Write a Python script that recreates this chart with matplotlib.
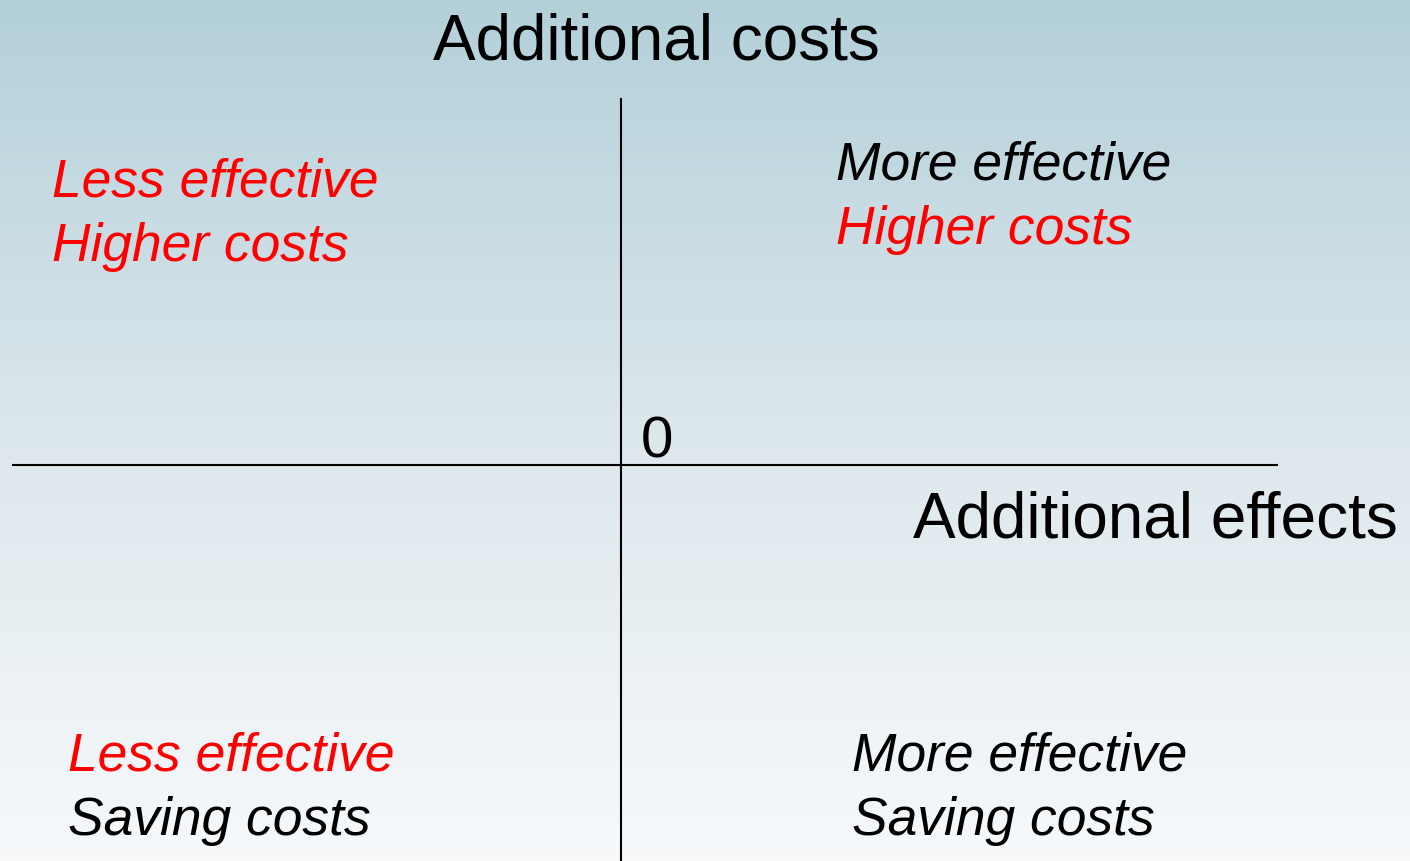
import numpy as np
import matplotlib
matplotlib.use("Agg")
import matplotlib.pyplot as plt
from matplotlib.colors import LinearSegmentedColormap

plt.rcParams['font.family'] = ['Liberation Sans', 'DejaVu Sans']

# Quadrant labels: (line1, color1, line2, color2)
quadrant_labels = [
    ("Less effective", "#ff0000", "Higher costs", "#ff0000"),
    ("More effective", "#000000", "Higher costs", "#ff0000"),
    ("Less effective", "#ff0000", "Saving costs", "#000000"),
    ("More effective", "#000000", "Saving costs", "#000000"),
]
y_axis_title = "Additional costs"
x_axis_title = "Additional effects"
origin_label = "0"

W, H = 1410, 862
fig = plt.figure(figsize=(W / 100, H / 100), dpi=100)
ax = fig.add_axes([0, 0, 1, 1])
ax.set_xlim(0, W)
ax.set_ylim(H, 0)
ax.axis('off')

# background gradient
cmap = LinearSegmentedColormap.from_list(
    "bg", ["#b3d0d9", "#dce7ec", "#f7f9fb"])
grad = np.linspace(0, 1, 256).reshape(-1, 1)
ax.imshow(grad, cmap=cmap, extent=[0, W, H, 0], aspect='auto', zorder=0)

# axes lines
ox, oy = 621, 466
ax.plot([13, 1277], [oy, oy], color='black', lw=1.5, zorder=2)
ax.plot([ox, ox], [100, H], color='black', lw=1.5, zorder=2)

ax.text(656, 60, y_axis_title, fontsize=46, ha='center', va='baseline', color='black')
ax.text(913, 538, x_axis_title, fontsize=46, ha='left', va='baseline', color='black')
ax.text(641, 458, origin_label, fontsize=42, ha='left', va='baseline', color='black')

positions = [(52, 197), (836, 180), (68, 771), (852, 771)]
for (x, y), (l1, c1, l2, c2) in zip(positions, quadrant_labels):
    ax.text(x, y, l1, fontsize=38.4, style='italic', color=c1, ha='left', va='baseline')
    ax.text(x, y + 64, l2, fontsize=38.4, style='italic', color=c2, ha='left', va='baseline')

fig.savefig("out.png", dpi=100)
